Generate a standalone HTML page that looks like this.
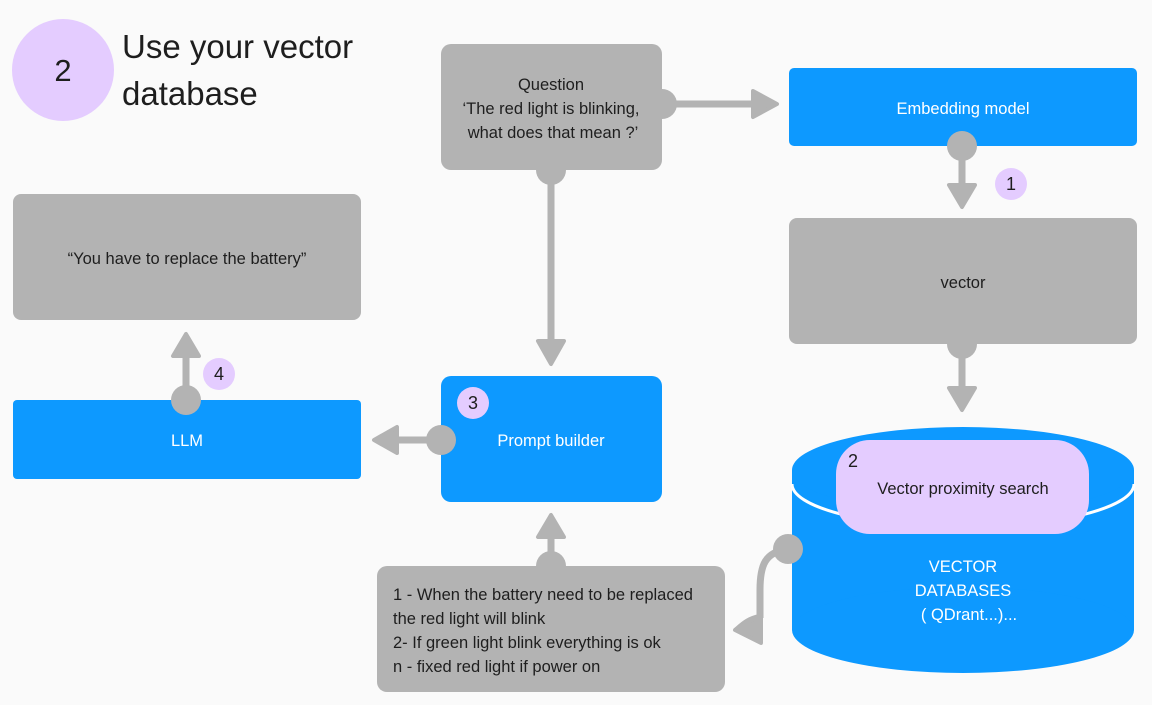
<!DOCTYPE html>
<html><head><meta charset="utf-8"><style>
html,body{margin:0;padding:0;background:#fafafa;}
svg{display:block;font-family:"Liberation Sans",sans-serif;}
</style></head><body>
<svg width="1152" height="705" viewBox="0 0 1152 705" xmlns="http://www.w3.org/2000/svg">
<rect width="1152" height="705" fill="#fafafa"/>
<!-- title -->
<circle cx="63" cy="70" r="51" fill="#e4ccff"/>
<text x="63" y="81" font-size="31" text-anchor="middle" fill="#1e1e1e">2</text>
<text x="122" y="58" font-size="33" fill="#1e1e1e">Use your vector</text>
<text x="122" y="105" font-size="33" fill="#1e1e1e">database</text>

<g fill="#b3b3b3" stroke="#b3b3b3" stroke-linejoin="round">
<line x1="662" y1="104" x2="758" y2="104" stroke-width="7"/>
<polygon points="753,91 777,104 753,117" stroke-width="4"/>
<line x1="962" y1="146" x2="962" y2="190" stroke-width="7"/>
<polygon points="949,185 975,185 962,207" stroke-width="4"/>
<line x1="962" y1="344" x2="962" y2="392" stroke-width="7"/>
<polygon points="949,388 975,388 962,410" stroke-width="4"/>
<line x1="551" y1="170" x2="551" y2="344" stroke-width="7"/>
<polygon points="538,341 564,341 551,364" stroke-width="4"/>
<line x1="441" y1="440" x2="393" y2="440" stroke-width="7"/>
<polygon points="397,427 397,453 374,440" stroke-width="4"/>
<line x1="186" y1="400" x2="186" y2="352" stroke-width="7"/>
<polygon points="173,356 199,356 186,334" stroke-width="4"/>
<line x1="551" y1="566" x2="551" y2="532" stroke-width="7"/>
<polygon points="538,537 564,537 551,515" stroke-width="4"/>
<path d="M788,549 C765,552 760,565 760,590 L760,618" fill="none" stroke-width="7"/>
<path d="M760,616 C748,618 742,624 735,630" fill="none" stroke-width="4"/>
<polygon points="761,615 761,643 735,630" stroke-width="4"/>
</g>

<rect x="441" y="44" width="221" height="126" rx="10" fill="#b3b3b3"/>
<g font-size="16.5" fill="#1e1e1e" text-anchor="middle">
<text x="551" y="90">Question</text>
<text x="551" y="114">‘The red light is blinking,</text>
<text x="553" y="138">what does that mean ?’</text>
</g>
<rect x="789" y="68" width="348" height="78" rx="5" fill="#0d99ff"/>
<text x="963" y="114" font-size="16.5" fill="#fff" text-anchor="middle">Embedding model</text>
<rect x="789" y="218" width="348" height="126" rx="8" fill="#b3b3b3"/>
<text x="963" y="288" font-size="16.5" fill="#1e1e1e" text-anchor="middle">vector</text>
<rect x="13" y="194" width="348" height="126" rx="8" fill="#b3b3b3"/>
<text x="187" y="264" font-size="16.5" fill="#1e1e1e" text-anchor="middle">“You have to replace the battery”</text>
<rect x="13" y="400" width="348" height="79" rx="4" fill="#0d99ff"/>
<text x="187" y="446" font-size="16.5" fill="#fff" text-anchor="middle">LLM</text>
<rect x="441" y="376" width="221" height="126" rx="10" fill="#0d99ff"/>
<text x="551" y="446" font-size="16.5" fill="#fff" text-anchor="middle">Prompt builder</text>
<rect x="377" y="566" width="348" height="126" rx="10" fill="#b3b3b3"/>
<g font-size="16.5" fill="#1e1e1e">
<text x="393" y="600">1 - When the battery need to be replaced</text>
<text x="393" y="624">the red light will blink</text>
<text x="393" y="648">2- If green light blink everything is ok</text>
<text x="393" y="672">n - fixed red light if power on</text>
</g>

<rect x="792" y="470" width="342" height="160" fill="#0d99ff"/>
<ellipse cx="963" cy="630" rx="171" ry="43" fill="#0d99ff"/>
<ellipse cx="963" cy="470" rx="171" ry="43" fill="#0d99ff"/>
<path d="M792,484 A171,43 0 0 0 1134,484" fill="none" stroke="#fff" stroke-width="3"/>
<rect x="836" y="440" width="253" height="94" rx="34" fill="#e4ccff"/>
<text x="853" y="467" font-size="18" fill="#1e1e1e" text-anchor="middle">2</text>
<text x="963" y="494" font-size="16.5" fill="#1e1e1e" text-anchor="middle">Vector proximity search</text>
<g font-size="16.5" fill="#fff" text-anchor="middle">
<text x="963" y="572">VECTOR</text>
<text x="963" y="596">DATABASES</text>
<text x="969" y="620">( QDrant...)...</text>
</g>

<g fill="#b3b3b3">
<circle cx="662" cy="104" r="15"/>
<circle cx="962" cy="146" r="15"/>
<circle cx="962" cy="344" r="15"/>
<circle cx="551" cy="170" r="15"/>
<circle cx="441" cy="440" r="15"/>
<circle cx="186" cy="400" r="15"/>
<circle cx="551" cy="566" r="15"/>
<circle cx="788" cy="549" r="15"/>
</g>

<g fill="#e4ccff">
<circle cx="1011" cy="184" r="16"/>
<circle cx="473" cy="403" r="16"/>
<circle cx="219" cy="374" r="16"/>
</g>
<g font-size="18" fill="#1e1e1e" text-anchor="middle">
<text x="1011" y="190">1</text>
<text x="473" y="409">3</text>
<text x="219" y="380">4</text>
</g>
</svg>
</body></html>
